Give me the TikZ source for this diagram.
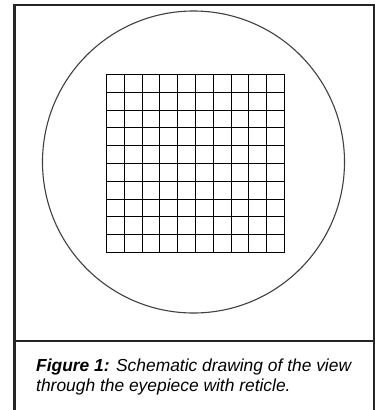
\documentclass[tikz,border=0pt]{standalone}
\usepackage{fontspec}
\setmainfont{Liberation Sans}[
  UprightFont=Liberation Sans,
  BoldFont=Liberation Sans Bold,
  ItalicFont=Liberation Sans Italic,
  BoldItalicFont=Liberation Sans Bold Italic]
\begin{document}
\begin{tikzpicture}[x=1bp,y=-1bp,
  frameline/.style={line width=2bp,draw=black!85},
  gridline/.style={line width=1.7bp,draw=black},
  ringline/.style={line width=1.1bp,draw=black!75},
  captext/.style={anchor=base west,inner sep=0pt,font=\fontsize{17.4bp}{20.7bp}\selectfont\itshape}]
\useasboundingbox (0,0) rectangle (375,410);
\fill[white] (0,0) rectangle (375,410);
% frame
\draw[frameline] (14.5,412) -- (14.5,4.5) -- (374,4.5) -- (374,412);
\draw[frameline] (14.5,340.5) -- (374,340.5);
% eyepiece field
\draw[ringline] (193.5,162) circle (151);
% reticle
\foreach \i in {0,...,10}{
  \pgfmathsetmacro{\gx}{round(106+17.8*\i)+0.5}
  \pgfmathsetmacro{\gy}{round(74+17.8*\i)+0.5}
  \draw[gridline] (\gx,74) -- (\gx,252.5);
  \draw[gridline] (106,\gy) -- (284.5,\gy);
}
\node[captext] (cap1) at (36,371) {\textbf{Figure 1:} Schematic drawing of the view};
\node[captext] (cap2) at (36,391.7) {through the eyepiece with reticle.};
\end{tikzpicture}
\end{document}
